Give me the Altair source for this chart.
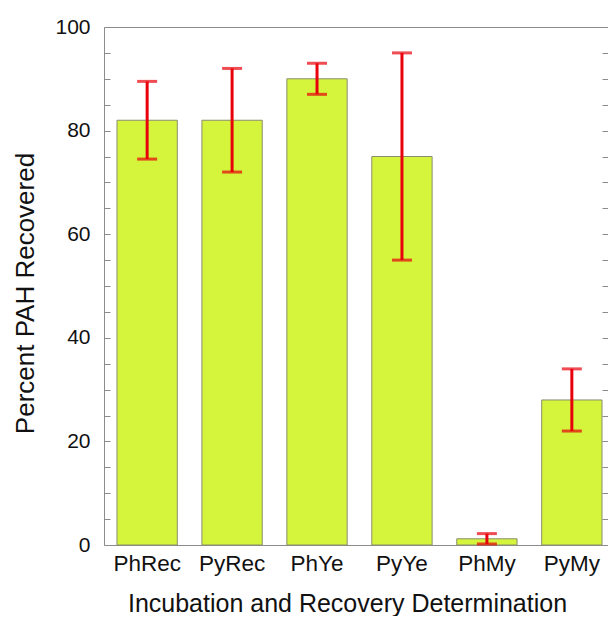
import altair as alt
import pandas as pd

categories = ["PhRec", "PyRec", "PhYe", "PyYe", "PhMy", "PyMy"]
recovered = [82, 82, 90, 75, 1.2, 28]
err_low = [74.5, 72, 87, 55, 0.2, 22]
err_high = [89.5, 92, 93, 95, 2.2, 34]
y_label_values = [0, 20, 40, 60, 80, 100]
y_tick_values = [0, 5, 10, 15, 20, 25, 30, 35, 40, 45, 50,
                 55, 60, 65, 70, 75, 80, 85, 90, 95, 100]

df = pd.DataFrame({
    "category": categories,
    "recovered": recovered,
    "low": err_low,
    "high": err_high,
})

W, H = 504, 518
FONT = "Liberation Sans"
RED = "#e8000b"
GRAY = "#8c8c8c"
TEXT = "#111111"

x_scale = alt.Scale(domain=categories, paddingInner=0.29, paddingOuter=0.1118, align=0.684)
y_scale = alt.Scale(domain=[0, 100], nice=False, zero=True)

base = alt.Chart(df)

bars = base.mark_bar(color="#d4f53c", stroke="#8c8c6e", strokeWidth=1).encode(
    x=alt.X("category:N", scale=x_scale, sort=categories,
            axis=alt.Axis(orient="bottom", title="Incubation and Recovery Determination",
                          labelAngle=0, ticks=False, domain=True, domainColor=GRAY,
                          labelFont=FONT, labelFontSize=22.5, labelColor=TEXT,
                          labelPadding=25, labelBaseline="alphabetic",
                          titleFont=FONT, titleFontSize=25, titleFontWeight="normal",
                          titleColor=TEXT, titleX=243, titleY=66,
                          titleBaseline="alphabetic", titleAlign="center")),
    y=alt.Y("recovered:Q", scale=y_scale,
            axis=alt.Axis(orient="left", values=y_label_values, title="Percent PAH Recovered",
                          ticks=False, domain=True, domainColor=GRAY,
                          labelFont=FONT, labelFontSize=21, labelColor=TEXT, labelPadding=14,
                          titleFont=FONT, titleFontSize=26, titleFontWeight="normal",
                          titleColor=TEXT, titleX=-71, titleY=266, titleAngle=270,
                          titleBaseline="alphabetic", titleAlign="center")),
)

rules = base.mark_rule(color=RED, strokeWidth=3).encode(
    x=alt.X("category:N", scale=x_scale, sort=categories,
            axis=alt.Axis(orient="top", labels=False, ticks=False, title=None,
                          domain=True, domainColor=GRAY)),
    y=alt.Y("low:Q", scale=y_scale,
            axis=alt.Axis(orient="right", values=y_tick_values, labels=False, domain=False,
                          title=None, offset=-6, tickSize=6, tickColor=GRAY, tickWidth=1)),
    y2="high:Q",
)

caps_low = base.mark_tick(color=RED, thickness=3, size=20).encode(
    x=alt.X("category:N", scale=x_scale, sort=categories, axis=None),
    y=alt.Y("low:Q", scale=y_scale,
            axis=alt.Axis(orient="left", values=y_tick_values, labels=False, domain=False,
                          title=None, offset=-6, tickSize=6, tickColor=GRAY, tickWidth=1)),
)

caps_high = base.mark_tick(color=RED, thickness=3, size=20).encode(
    x=alt.X("category:N", scale=x_scale, sort=categories, axis=None),
    y=alt.Y("high:Q", scale=y_scale, axis=None),
)

chart = (
    alt.layer(bars, rules, caps_low, caps_high)
    .resolve_axis(x="independent", y="independent")
    .properties(width=W, height=H,
                autosize=alt.AutoSizeParams(type="none"),
                padding={"left": 96, "top": 19, "right": 0, "bottom": 71})
    .configure_view(strokeOpacity=0)
    .configure_axis(grid=False)
)

chart.save("out.html", embed_options={"renderer": "svg", "actions": False})
